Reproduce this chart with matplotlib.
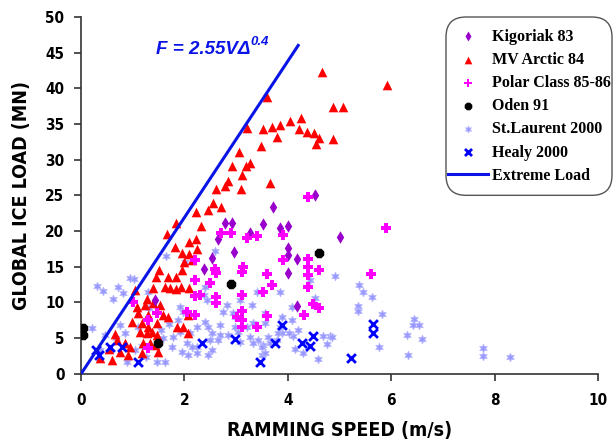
import matplotlib
matplotlib.use("Agg")
import matplotlib.pyplot as plt
from matplotlib import font_manager
from matplotlib.patches import FancyBboxPatch

# --- data (speed m/s, load MN) ---
kig_v = [4.53, 3.71, 2.79, 2.92, 3.52, 3.27, 3.85, 4.00, 5.01, 2.65, 2.96, 2.53,
         4.00, 4.00, 4.18, 4.00, 2.38, 4.18, 1.43]
kig_F = [25.1, 23.4, 21.1, 21.1, 21.0, 19.7, 20.4, 20.7, 19.2, 18.9, 17.1, 16.2,
         17.6, 16.7, 16.1, 14.1, 14.7, 9.5, 10.4]

arctic_v = [4.66, 5.92, 4.87, 5.07, 3.60, 3.21, 3.52, 3.69, 3.85, 4.04, 4.26, 4.22,
            4.37, 4.51, 4.60, 4.55, 4.87, 3.79, 3.48,
            3.06, 2.92, 3.19, 3.27, 3.11, 2.84, 2.79, 3.09, 3.66,
            2.61, 2.55, 2.46, 2.71, 2.22, 2.32, 1.84, 1.66, 2.09, 2.22,
            1.82, 1.95, 2.09, 2.24, 1.99, 2.15, 1.51, 1.68, 1.84, 1.95,
            1.62, 1.72, 1.84, 1.93, 2.09, 1.45, 1.39, 1.04, 1.28, 1.24,
            1.39, 1.53, 1.08, 1.10, 1.30, 1.59, 1.68, 0.99, 1.18, 1.30,
            1.47, 2.07, 1.97, 2.07, 1.86, 1.14, 1.28, 1.37, 1.47, 0.66,
            0.85, 0.95, 1.20, 1.33, 0.75, 0.60, 0.37, 1.18, 1.49, 1.43,
            0.55, 0.70, 0.90]
arctic_F = [42.3, 40.5, 37.4, 37.4, 38.8, 34.5, 34.3, 34.6, 34.9, 35.4, 35.9, 34.3,
            33.9, 33.8, 33.1, 32.2, 32.9, 33.2, 31.9,
            31.1, 29.1, 29.1, 29.6, 27.9, 27.0, 26.3, 25.9, 26.8,
            25.9, 23.9, 23.0, 23.4, 22.7, 20.7, 21.1, 19.6, 18.5, 18.9,
            17.8, 16.9, 16.8, 17.5, 15.7, 16.0, 14.6, 13.6, 13.6, 14.6,
            12.2, 12.0, 11.9, 12.2, 12.0, 13.6, 12.0, 11.8, 10.5, 9.7,
            9.9, 9.7, 9.4, 8.5, 8.3, 8.3, 8.0, 7.3, 7.1, 6.6,
            7.1, 8.3, 6.6, 5.7, 6.6, 5.9, 5.7, 5.9, 5.5, 5.6,
            4.3, 3.8, 4.3, 4.3, 3.1, 2.0, 2.2, 2.9, 3.1, 4.1,
            3.5, 4.8, 2.6]

polar_v = [4.39, 5.90, 2.71, 2.90, 3.21, 3.40, 3.91, 2.21, 2.59, 2.61,
           3.91, 4.39, 4.39, 4.39, 4.60, 4.39, 3.13, 3.11, 3.60, 3.69,
           2.21, 2.50, 2.30, 2.21, 2.61, 2.61, 3.11, 3.52, 5.61, 2.05,
           2.21, 3.02, 3.11, 3.11, 3.60, 3.40, 4.31, 4.49, 4.60, 1.01,
           1.30, 1.47, 1.30, 3.11]
polar_F = [24.8, 20.4, 19.7, 19.7, 19.0, 19.3, 19.5, 16.0, 14.7, 14.1,
           16.0, 16.1, 15.0, 13.9, 14.6, 12.2, 15.0, 14.3, 14.0, 12.5,
           13.2, 12.7, 11.1, 10.9, 10.8, 9.9, 11.1, 11.5, 14.0, 8.7,
           8.3, 8.0, 8.8, 7.6, 8.1, 6.6, 8.3, 9.8, 9.2, 10.1,
           7.6, 8.5, 3.6, 6.6]

oden_v = [0.03, 0.03, 1.49, 2.90, 4.60]
oden_F = [6.4, 5.5, 4.3, 12.6, 16.9]

stl_v = [2.59, 1.64, 2.01, 0.95, 1.03, 0.31, 0.43, 0.72, 0.81, 0.62,
         2.40, 2.38, 3.40, 3.85, 4.43, 4.91, 4.53, 5.38, 5.45, 5.63,
         5.36, 5.36, 5.82, 6.31, 6.32, 5.76, 4.82, 4.68, 4.58, 4.29,
         4.14, 4.10, 4.02, 4.20, 3.89, 3.79, 3.66, 3.52, 3.42, 3.33,
         3.50, 3.85, 4.08, 3.89, 3.56, 3.33, 3.21, 3.04, 2.98, 2.84,
         2.69, 2.69, 2.40, 2.46, 2.24, 2.11, 1.91, 1.78, 2.05, 2.24,
         2.53, 2.24, 1.95, 1.76, 1.62, 1.47, 0.89, 1.18, 0.85, 0.21,
         0.46, 0.37, 1.91, 1.97, 1.32, 1.30, 2.44, 2.82, 3.08, 3.31,
         2.75, 2.94, 1.59, 3.08, 3.27,
         6.44, 6.42, 6.54, 6.60, 7.78, 7.78, 8.30,
         4.76, 4.86, 1.30, 0.75, 0.68, 1.88,
         2.98, 3.56, 4.08, 3.81, 3.62, 3.50, 3.56, 2.50, 2.65, 2.15,
         2.46, 2.07, 2.53, 1.55, 1.70, 1.10, 1.05, 1.25]
stl_F = [17.2, 16.5, 15.7, 13.4, 13.3, 12.3, 11.6, 12.2, 11.3, 10.5,
         12.2, 11.1, 11.5, 11.5, 13.2, 13.7, 10.6, 12.5, 11.5, 10.8,
         9.5, 8.8, 8.4, 5.5, 2.6, 3.8, 5.3, 5.3, 2.1, 2.9,
         3.5, 5.3, 5.7, 6.2, 5.7, 4.8, 4.3, 4.1, 4.8, 4.3,
         2.7, 6.6, 9.4, 8.0, 8.5, 7.1, 6.6, 5.9, 6.6, 5.5,
         5.5, 6.9, 7.3, 6.6, 6.6, 5.7, 5.9, 5.2, 4.3, 3.8,
         3.4, 2.9, 3.1, 3.8, 1.7, 1.7, 1.7, 3.9, 5.7, 6.4,
         5.5, 3.4, 9.4, 8.7, 9.2, 11.5, 10.4, 9.7, 10.4, 9.7,
         8.7, 8.5, 5.0, 4.5, 5.2,
         7.7, 6.9, 6.9, 4.9, 3.6, 2.5, 2.4,
         4.2, 5.2, 7.8, 6.9, 5.0, 7.6,
         8.0, 7.1, 7.6, 5.7, 5.2, 3.8, 2.9, 4.8, 4.8, 3.8,
         2.7, 2.7, 5.7, 6.2, 7.0, 6.5, 3.3, 2.3]

healy_v = [0.29, 0.35, 0.56, 0.79, 1.10, 2.34, 2.98, 3.46, 3.75, 3.89,
           4.27, 4.43, 4.49, 5.22, 5.65, 5.65]
healy_F = [3.3, 2.6, 3.8, 3.8, 1.7, 4.3, 4.9, 1.7, 4.3, 6.9,
           4.3, 3.9, 5.3, 2.2, 7.0, 5.7]

extreme_v = [0.0, 4.2]
extreme_F = [0.0, 46.0]

x_ticks = [0, 2, 4, 6, 8, 10]
y_ticks = [0, 5, 10, 15, 20, 25, 30, 35, 40, 45, 50]

# condensed bold sans for the axis texts, if any is installed
names = {f.name for f in font_manager.fontManager.ttflist}
narrow = "Liberation Sans Narrow" if "Liberation Sans Narrow" in names else "DejaVu Sans"
axis_font = dict(family=narrow, fontweight="bold", fontstretch="condensed")

fig = plt.figure(figsize=(6.14, 4.44), dpi=100)
ax = fig.add_axes([0.132, 0.158, 0.842, 0.804])

hexstar = (6, 1, 0)
ax.scatter(stl_v, stl_F, s=38, marker=hexstar, color="#9999FF", lw=0.6,
           edgecolor="#B8B8FF", label="St.Laurent 2000", zorder=2)
ax.scatter(arctic_v, arctic_F, s=48, marker="^", color="#FF0000", lw=0,
           label="MV Arctic 84", zorder=3)
ax.scatter(kig_v, kig_F, s=40, marker="d", color="#9900CC", lw=0,
           label="Kigoriak 83", zorder=3)
ax.scatter(polar_v, polar_F, s=55, marker="P", color="#FF00FF", lw=0,
           label="Polar Class 85-86", zorder=4)
ax.scatter(oden_v, oden_F, s=55, marker="8", color="black", lw=0,
           label="Oden 91", zorder=4)
ax.scatter(healy_v, healy_F, s=40, marker="x", color="#0000FF", lw=2,
           label="Healy 2000", zorder=5)
ax.plot(extreme_v, extreme_F, color="#0A14E6", lw=2.2, label="Extreme Load", zorder=6)

t = ax.text(1.45, 45.4, "F = 2.55V\u0394", color="#0A14E6", fontsize=13.5,
            fontweight="bold", fontstyle="italic", family="Liberation Sans",
            ha="left", va="center")
ax.annotate("0.4", xy=(1.0, 0.95), xycoords=t, color="#0A14E6", fontsize=9.5,
            fontweight="bold", fontstyle="italic", family="Liberation Sans",
            ha="left", va="center")

ax.set_xlim(0, 10)
ax.set_ylim(0, 50)
ax.set_xticks(x_ticks)
ax.set_yticks(y_ticks)
ax.spines["top"].set_visible(False)
ax.spines["right"].set_visible(False)
for sp in ("left", "bottom"):
    ax.spines[sp].set_color("#333333")
    ax.spines[sp].set_linewidth(1.2)
ax.tick_params(direction="out", length=5, width=1.2, color="#333333", pad=7)
ax.tick_params(axis="x", pad=9)
for lab in ax.get_xticklabels() + ax.get_yticklabels():
    lab.set(**axis_font)
    lab.set_fontsize(11)

ax.set_xlabel("RAMMING SPEED (m/s)", fontsize=14, labelpad=9, **axis_font)
ax.set_ylabel("GLOBAL ICE LOAD (MN)", fontsize=14, labelpad=10, **axis_font)

handles, labels = ax.get_legend_handles_labels()
order = ["Kigoriak 83", "MV Arctic 84", "Polar Class 85-86", "Oden 91",
         "St.Laurent 2000", "Healy 2000", "Extreme Load"]
hmap = dict(zip(labels, handles))
pad_y = 10  # extra vertical room inside the rounded frame, px
leg = ax.legend([hmap[k] for k in order], order, loc="upper right",
                bbox_to_anchor=(612 / 614, 1 - (17 + pad_y) / 444),
                bbox_transform=fig.transFigure,
                prop={"family": "Liberation Serif", "weight": "bold", "size": 11.5},
                frameon=False, handlelength=2.5, handletextpad=0.25,
                labelspacing=0.45, borderpad=0.1, borderaxespad=0, scatterpoints=1,
                markerscale=0.8)

# rounded frame drawn around the legend, taller than the legend itself
fig.canvas.draw()
bb = leg.get_window_extent()
frame = FancyBboxPatch((bb.x0, bb.y0 - pad_y), bb.width, bb.height + 2 * pad_y,
                       boxstyle="round,pad=0,rounding_size=20", transform=None,
                       facecolor="white", edgecolor="#555555", lw=1.0, zorder=7)
fig.add_artist(frame)
leg.set_zorder(8)
leg.remove()
fig.add_artist(leg)

fig.savefig("out.png", dpi=100)
